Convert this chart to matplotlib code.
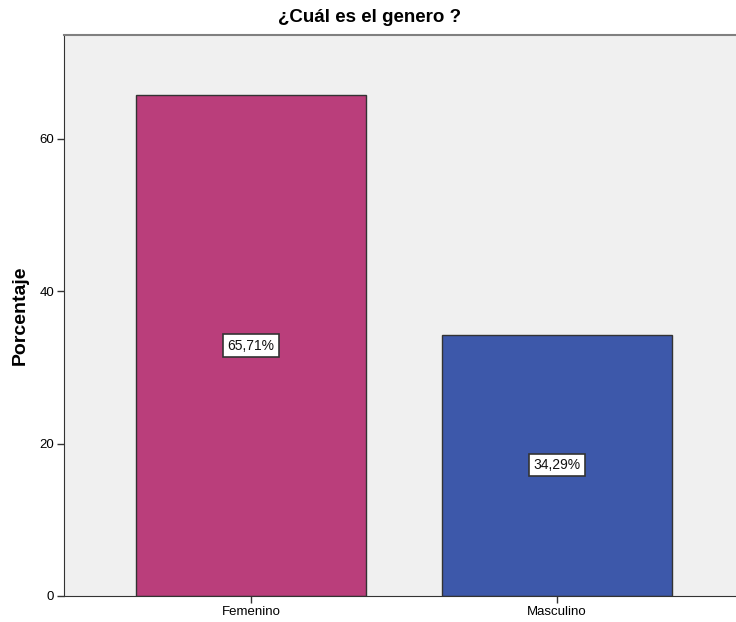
import matplotlib
matplotlib.use("Agg")
import matplotlib.pyplot as plt

categories = ["Femenino", "Masculino"]
percentages = [65.71, 34.29]
bar_colors = ["#BA3E7B", "#3D58AA"]
y_ticks = [0, 20, 40, 60]

plt.rcParams["font.family"] = ["Liberation Sans", "DejaVu Sans"]

fig = plt.figure(figsize=(7.36, 6.22), dpi=100)
ax = fig.add_axes([64 / 736, 26 / 622, 680 / 736, 561 / 622])
ax.set_facecolor("#F0F0F0")

x = list(range(len(categories)))
ax.bar(x, percentages, width=0.75, color=bar_colors, edgecolor="#333333", linewidth=1.0, zorder=2)

# value labels in boxed text at half the bar height
for xi, v in zip(x, percentages):
    label = f"{v:.2f}%".replace(".", ",")
    ax.text(xi, v / 2, label, ha="center", va="center", fontsize=10, color="#111111",
            bbox=dict(boxstyle="square,pad=0.3", facecolor="white", edgecolor="#333333", linewidth=1.2),
            zorder=3)

ax.set_xlim(-0.611, 1.611)
ax.set_ylim(0, 73.6)
ax.set_xticks(x)
ax.set_xticklabels(categories, fontsize=9.5)
ax.set_yticks(y_ticks)
ax.set_yticklabels([str(t) for t in y_ticks], fontsize=9.5)
ax.tick_params(axis="both", direction="out", length=5, width=1, color="#333333", pad=2)

ax.spines["left"].set_color("#333333")
ax.spines["bottom"].set_color("#333333")
ax.spines["top"].set_color("#808080")
ax.spines["top"].set_linewidth(1.5)
ax.spines["right"].set_visible(False)

ax.set_ylabel("Porcentaje", fontsize=14, fontweight="bold")
ax.yaxis.set_label_coords(-0.052, 0.5)
fig.text(370 / 736, 1 - 18 / 622, "¿Cuál es el genero ?", ha="center", va="center",
         fontsize=13.5, fontweight="bold")

fig.savefig("out.png", dpi=100)
